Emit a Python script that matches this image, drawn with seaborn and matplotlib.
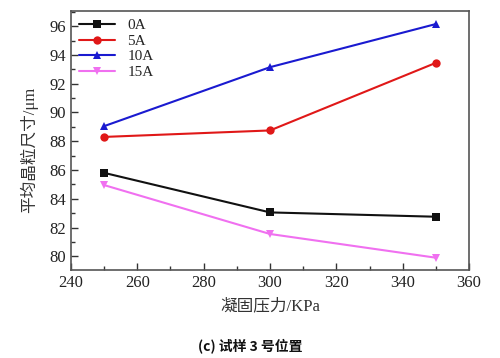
import matplotlib
matplotlib.use("Agg")
import matplotlib.pyplot as plt
from matplotlib.ticker import MultipleLocator
import pandas as pd
import seaborn as sns

pressure = [250, 300, 350]
series_names = ["0A", "5A", "10A", "15A"]
size_0a = [85.8, 83.05, 82.75]
size_5a = [88.3, 88.75, 93.45]
size_10a = [89.05, 93.15, 96.15]
size_15a = [84.95, 81.55, 79.9]

df = pd.DataFrame({
    "pressure": pressure * 4,
    "size": size_0a + size_5a + size_10a + size_15a,
    "current": [n for n in series_names for _ in pressure],
})

sns.set_style("white")
plt.rcParams["font.family"] = ["Liberation Serif", "Noto Sans CJK SC"]

palette = {"0A": "#111111", "5A": "#e01818", "10A": "#1a1ad0", "15A": "#f070f0"}
markers = {"0A": "s", "5A": "o", "10A": "^", "15A": "v"}

fig = plt.figure(figsize=(5.0, 3.58), dpi=100)
ax = fig.add_axes([0.142, 0.246, 0.796, 0.723])

sns.lineplot(
    data=df, x="pressure", y="size", hue="current", style="current",
    markers=markers, dashes=False, palette=palette, ax=ax,
    markersize=6, markeredgewidth=0, linewidth=1.5,
)

ax.set_xlim(240, 360)
ax.set_ylim(79.05, 97.05)
ax.xaxis.set_major_locator(MultipleLocator(20))
ax.xaxis.set_minor_locator(MultipleLocator(10))
ax.yaxis.set_major_locator(MultipleLocator(2))
ax.yaxis.set_minor_locator(MultipleLocator(1))
ax.tick_params(which="both", direction="in", bottom=True, left=True,
               top=False, right=False, colors="#333333", labelcolor="#222222",
               labelsize=12)
ax.tick_params(which="major", length=5, width=1)
ax.tick_params(which="minor", length=3, width=1)
for s in ax.spines.values():
    s.set_color("#555555")
    s.set_linewidth(1.2)

ax.set_xlabel("")
ax.set_ylabel("")
fig.text(0.54, 0.145, "凝固压力/KPa", ha="center", va="center", fontsize=12,
         family=["Liberation Serif", "Noto Sans CJK SC"], color="#333333")
fig.text(0.058, 0.58, "平均晶粒尺寸/μm", ha="center", va="center", rotation=90,
         fontsize=12, family=["Liberation Serif", "Noto Sans CJK SC"], color="#333333")
fig.text(0.5, 0.035, "(c) 试样 3 号位置", ha="center", va="center", fontsize=10,
         fontweight="bold", family=["Noto Sans CJK SC", "DejaVu Sans"], color="#111111")

leg = ax.legend(loc="upper left", frameon=False, fontsize=11,
                handlelength=2.4, labelspacing=0.12, borderaxespad=0.0,
                borderpad=0.5, handletextpad=0.8)
leg.set_title(None)

fig.savefig("out.png", dpi=100)
